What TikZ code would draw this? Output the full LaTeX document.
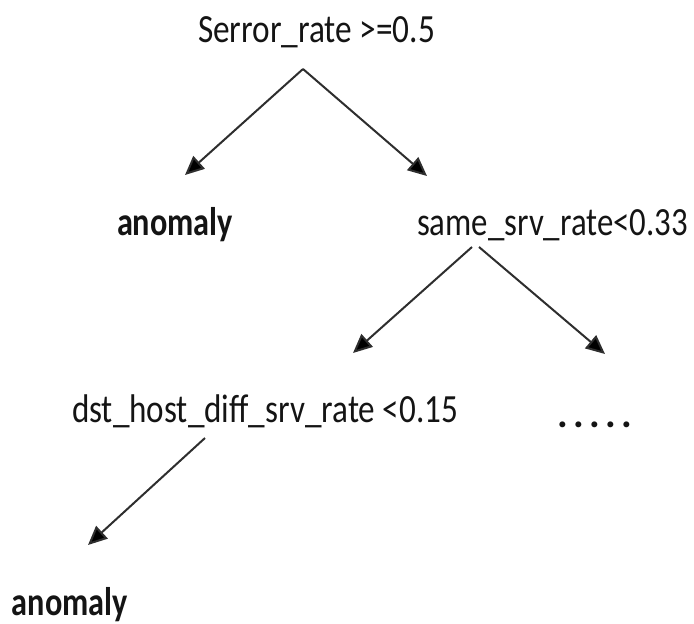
\documentclass[tikz,border=0pt]{standalone}
\usepackage{fontspec}
\usepackage{graphicx}
\setmainfont{Carlito}
\usetikzlibrary{arrows.meta}
% text squeezed horizontally to a given width, natural height kept
\newcommand\fitto[2]{\resizebox{#1}{\height}{#2}}
\tikzset{
  lbl/.style={inner sep=0pt, outer sep=0pt, anchor=base west,
    text=black!92, font=\fontsize{40}{44}\selectfont},
  edge/.style={draw=black!82, line width=2pt,
    -{Triangle[length=19pt,width=17pt,fill=black]}},
}
\begin{document}
\begin{tikzpicture}[x=1pt,y=-1pt]
\useasboundingbox (0,0) rectangle (694,624);
\node[lbl] (root) at (198,42) {\fitto{237pt}{Serror\_rate >=0.5}};
\node[lbl] (leafA) at (117,235) {\fitto{116pt}{\bfseries anomaly}};
\node[lbl] (same) at (417,235) {\fitto{271pt}{same\_srv\_rate<0.33}};
\node[lbl] (dst) at (72,422) {\fitto{386pt}{dst\_host\_diff\_srv\_rate <0.15}};
\node[lbl] (more) at (557,427) {\bfseries .\kern5.5pt.\kern5.5pt.\kern5.5pt.\kern5.5pt.};
\node[lbl] (leafB) at (12,615) {\fitto{116pt}{\bfseries anomaly}};
\draw[edge] ([shift={(105,27)}]root.base west) -- ([shift={(68,-60)}]leafA.base west);
\draw[edge] ([shift={(105,27)}]root.base west) -- ([shift={(10,-59)}]same.base west);
\draw[edge] ([shift={(55,12)}]same.base west) -- ([shift={(281,-69)}]dst.base west);
\draw[edge] ([shift={(62,12)}]same.base west) -- ([shift={(48,-73)}]more.base west);
\draw[edge] ([shift={(133,16)}]dst.base west) -- ([shift={(76,-70)}]leafB.base west);
\end{tikzpicture}
\end{document}
